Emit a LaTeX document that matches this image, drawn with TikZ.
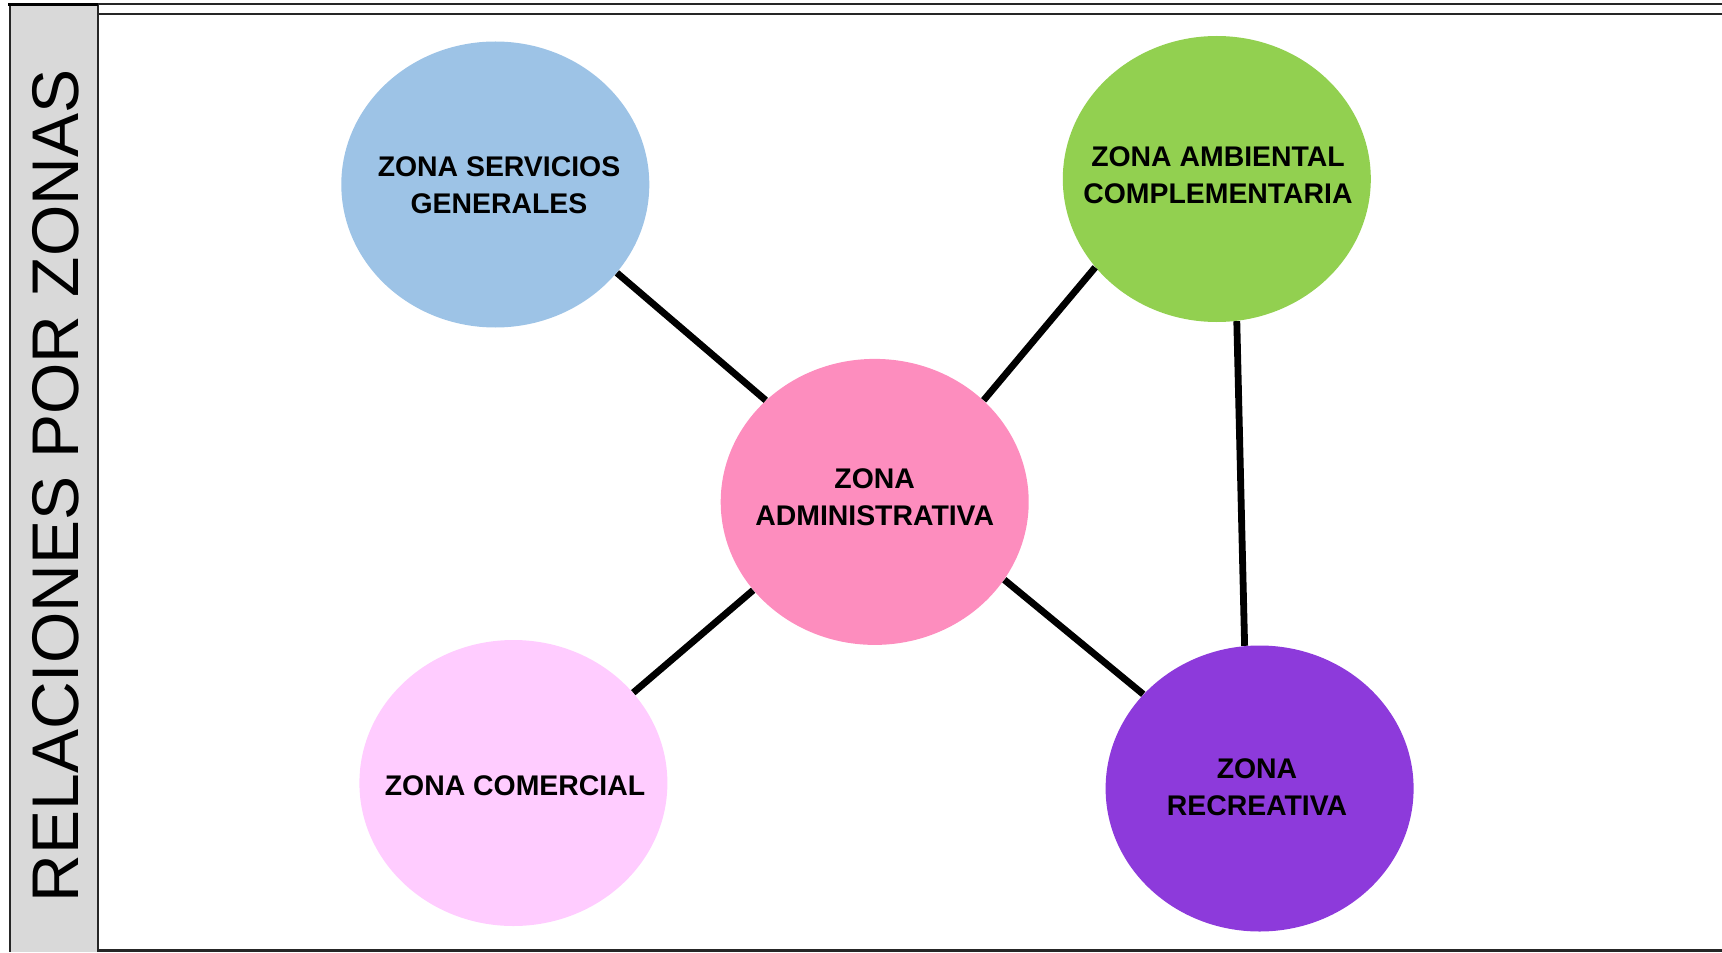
\documentclass[tikz,border=0pt]{standalone}
\usepackage{fontspec}
\setmainfont{Liberation Sans}
\usetikzlibrary{shapes.geometric}
\definecolor{cserv}{HTML}{9DC3E6}
\definecolor{camb}{HTML}{92D050}
\definecolor{cadm}{HTML}{FD8DBE}
\definecolor{ccom}{HTML}{FFCCFF}
\definecolor{crec}{HTML}{8D3ADB}
\definecolor{cband}{HTML}{D9D9D9}
\begin{document}
\begin{tikzpicture}[x=0.5pt,y=-0.5pt,
  zone/.style={ellipse, minimum width=154pt, minimum height=143pt, inner sep=0pt, draw=none},
  ztext/.style={align=center, font=\fontsize{14.2}{18.5}\selectfont\bfseries, inner sep=0pt},
  link/.style={line width=3.4pt, black, line cap=butt},
  frameline/.style={line width=1pt, black!85}]
\useasboundingbox (0,0) rectangle (1722,952);
% frame
\fill[cband] (10,4) rectangle (98,952);
\draw[frameline] (8,4.5) -- (1722,4.5);
\draw[frameline] (98,14.5) -- (1722,14.5);
\draw[frameline, line width=1.5pt] (98,950.5) -- (1722,950.5);
\draw[frameline] (10,4) -- (10,952);
\draw[frameline] (97.5,4) -- (97.5,952);
\draw[line width=1.5pt] (8,4.5) -- (98,4.5);
\node[rotate=90, font=\fontsize{33}{40}\selectfont, inner sep=0pt] (title) at (56,486) {RELACIONES POR ZONAS};
% zones
\node[zone, fill=cserv] (serv) at (495.3,184.5) {};
\node[zone, fill=camb] (amb) at (1216.8,179) {};
\node[zone, fill=cadm] (adm) at (874.7,501.9) {};
\node[zone, fill=ccom] (com) at (513.4,783) {};
\node[zone, fill=crec] (rec) at (1259.6,788.5) {};
\node[ztext] (servt) at (499,185.5) {ZONA SERVICIOS\\GENERALES};
\node[ztext] (ambt) at (1218,175) {ZONA AMBIENTAL\\COMPLEMENTARIA};
\node[ztext] (admt) at (874.7,497.5) {ZONA\\ADMINISTRATIVA};
\node[ztext] (comt) at (515,786) {ZONA COMERCIAL};
\node[ztext] (rect) at (1257,787.5) {ZONA\\RECREATIVA};
% links
\draw[link] (serv.-36.6) -- (adm.137.7);
\draw[link] (amb.-144.4) -- (adm.43.2);
\draw[link] (adm.-144.9) -- (com.37.5);
\draw[link] (adm.-31.1) -- (rec.141.6);
\draw[link] (amb.-82.5) -- (rec.96.3);
\end{tikzpicture}
\end{document}
